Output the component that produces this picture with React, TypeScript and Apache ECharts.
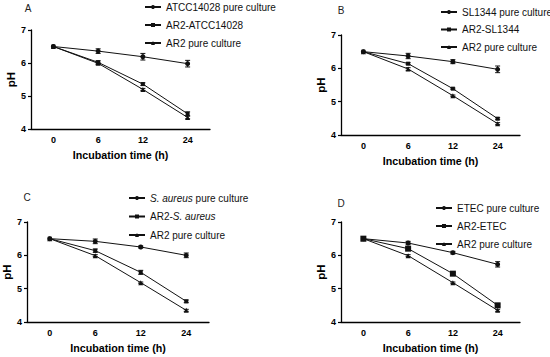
import React, { useEffect, useRef } from "react";
import * as echarts from "echarts";

const timeLabels = ["0", "6", "12", "24"];

const panelLetters = ["A", "B", "C", "D"];

const namesA = ["ATCC14028 pure culture", "AR2-ATCC14028", "AR2 pure culture"];
const pureA = [6.5, 6.36, 6.19, 5.98];
const coA = [6.5, 6.02, 5.36, 4.46];
const ar2A = [6.5, 5.99, 5.2, 4.35];
const errPureA = [0, 0.07, 0.1, 0.1];
const errCoA = [0, 0.05, 0.04, 0.06];
const errAr2A = [0, 0.03, 0.03, 0.04];

const namesB = ["SL1344 pure culture", "AR2-SL1344", "AR2 pure culture"];
const pureB = [6.5, 6.37, 6.2, 5.97];
const coB = [6.5, 6.14, 5.39, 4.49];
const ar2B = [6.5, 5.98, 5.18, 4.34];
const errPureB = [0, 0.08, 0.06, 0.1];
const errCoB = [0, 0.03, 0.02, 0.03];
const errAr2B = [0, 0.04, 0.02, 0.03];

const namesC = ["S. aureus pure culture", "AR2-S. aureus", "AR2 pure culture"];
const pureC = [6.5, 6.42, 6.25, 6.0];
const coC = [6.5, 6.14, 5.49, 4.62];
const ar2C = [6.5, 5.99, 5.18, 4.35];
const errPureC = [0, 0.07, 0.03, 0.07];
const errCoC = [0, 0.05, 0.06, 0.04];
const errAr2C = [0, 0.03, 0.02, 0.03];

const namesD = ["ETEC pure culture", "AR2-ETEC", "AR2 pure culture"];
const pureD = [6.5, 6.37, 6.08, 5.73];
const coD = [6.5, 6.2, 5.45, 4.5];
const ar2D = [6.5, 5.99, 5.18, 4.35];
const errPureD = [0, 0.05, 0.04, 0.08];
const errCoD = [0, 0.03, 0.03, 0.04];
const errAr2D = [0, 0.03, 0.02, 0.03];

const FONT = "'Liberation Sans', Arial, sans-serif";
const LFS = 10;

export default function App() {
  const ref = useRef<HTMLDivElement>(null);
  useEffect(() => {
    if (!ref.current) return;
    const chart = echarts.init(ref.current, undefined, { renderer: "svg" });

    const panels = [
      { names: namesA, vals: [pureA, coA, ar2A], errs: [errPureA, errCoA, errAr2A], grid: { left: 31, top: 30, width: 179, height: 99 }, legend: { left: 144, top: 2, gap: 8 }, letter: { x: 28, y: 8 }, rectSize: 4 },
      { names: namesB, vals: [pureB, coB, ar2B], errs: [errPureB, errCoB, errAr2B], grid: { left: 341, top: 35, width: 179, height: 100 }, legend: { left: 440, top: 7, gap: 7.5 }, letter: { x: 341, y: 10 }, rectSize: 4 },
      { names: namesC, vals: [pureC, coC, ar2C], errs: [errPureC, errCoC, errAr2C], grid: { left: 27, top: 222, width: 182, height: 100 }, legend: { left: 128, top: 193, gap: 8.5 }, letter: { x: 27, y: 197 }, rectSize: 4 },
      { names: namesD, vals: [pureD, coD, ar2D], errs: [errPureD, errCoD, errAr2D], grid: { left: 341, top: 222, width: 179, height: 100 }, legend: { left: 435, top: 203, gap: 8 }, letter: { x: 341, y: 203 }, rectSize: 6 },
    ];

    const grids: any[] = [];
    const xAxes: any[] = [];
    const yAxes: any[] = [];
    const legends: any[] = [];
    const series: any[] = [];
    const graphics: any[] = [];

    panels.forEach((p, i) => {
      grids.push({ ...p.grid });
      xAxes.push({
        type: "category",
        gridIndex: i,
        data: timeLabels,
        boundaryGap: true,
        axisLine: { lineStyle: { color: "#000", width: 1.3 } },
        axisTick: { alignWithLabel: true, length: 3, lineStyle: { color: "#000", width: 1.2 } },
        axisLabel: { color: "#000", fontWeight: "bold", fontSize: 9, fontFamily: FONT, margin: 6 },
        name: "Incubation time (h)",
        nameLocation: "middle",
        nameGap: 20,
        nameTextStyle: { color: "#000", fontWeight: "bold", fontSize: 10.7, fontFamily: FONT },
      });
      yAxes.push({
        type: "value",
        gridIndex: i,
        min: 4,
        max: 7,
        interval: 1,
        splitLine: { show: false },
        axisLine: { show: true, lineStyle: { color: "#000", width: 1.3 } },
        axisTick: { show: true, length: 3, lineStyle: { color: "#000", width: 1.2 } },
        axisLabel: { color: "#000", fontWeight: "bold", fontSize: 9, fontFamily: FONT, margin: 5 },
        name: "pH",
        nameLocation: "middle",
        nameGap: 13,
        nameTextStyle: { color: "#000", fontWeight: "bold", fontSize: 11.5, fontFamily: FONT },
      });
      legends.push({
        orient: "vertical",
        left: p.legend.left,
        top: p.legend.top,
        padding: 0,
        itemWidth: 16,
        itemHeight: 5,
        itemGap: p.legend.gap,
        data: p.names,
        textStyle: {
          color: "#111",
          fontSize: LFS,
          fontFamily: FONT,
          rich: {
            i: { fontStyle: "italic", fontSize: LFS, fontFamily: FONT, color: "#111" },
            n: { fontSize: LFS, fontFamily: FONT, color: "#111" },
          },
        },
        formatter: (name: string) => {
          if (name === "S. aureus pure culture") return "{i|S. aureus}{n| pure culture}";
          if (name === "AR2-S. aureus") return "{n|AR2-}{i|S. aureus}";
          return name;
        },
      });
      const symbols = ["circle", "rect", "triangle"];
      const sizes = [5, p.rectSize, 5];
      p.vals.forEach((vals, k) => {
        series.push({
          type: "line",
          name: p.names[k],
          xAxisIndex: i,
          yAxisIndex: i,
          data: vals,
          symbol: symbols[k],
          symbolSize: sizes[k],
          showSymbol: true,
          lineStyle: { color: "#111", width: 1 },
          itemStyle: { color: "#111" },
          z: 3,
        });
        const errData = vals.map((v, j) => [j, v, p.errs[k][j]]);
        series.push({
          type: "custom",
          xAxisIndex: i,
          yAxisIndex: i,
          data: errData,
          z: 4,
          silent: true,
          renderItem: (params: any, api: any) => {
            const x = api.value(0);
            const y = api.value(1);
            const e = api.value(2);
            if (!e) return null;
            const hi = api.coord([x, y + e]);
            const lo = api.coord([x, y - e]);
            const c = 2.5;
            const style = { stroke: "#111", lineWidth: 1 };
            return {
              type: "group",
              children: [
                { type: "line", shape: { x1: hi[0], y1: hi[1], x2: lo[0], y2: lo[1] }, style },
                { type: "line", shape: { x1: hi[0] - c, y1: hi[1], x2: hi[0] + c, y2: hi[1] }, style },
                { type: "line", shape: { x1: lo[0] - c, y1: lo[1], x2: lo[0] + c, y2: lo[1] }, style },
              ],
            };
          },
        });
      });
      graphics.push({
        type: "text",
        x: p.letter.x,
        y: p.letter.y,
        style: { text: panelLetters[i], fontSize: 10, fontFamily: FONT, fill: "#222", textAlign: "center", textVerticalAlign: "middle" },
      });
    });

    chart.setOption({
      animation: false,
      backgroundColor: "#fff",
      grid: grids,
      xAxis: xAxes,
      yAxis: yAxes,
      legend: legends,
      series,
      graphic: graphics,
    });
    return () => chart.dispose();
  }, []);
  return <div ref={ref} style={{ position: "fixed", left: 0, top: 0, width: 550, height: 357 }} />;
}
